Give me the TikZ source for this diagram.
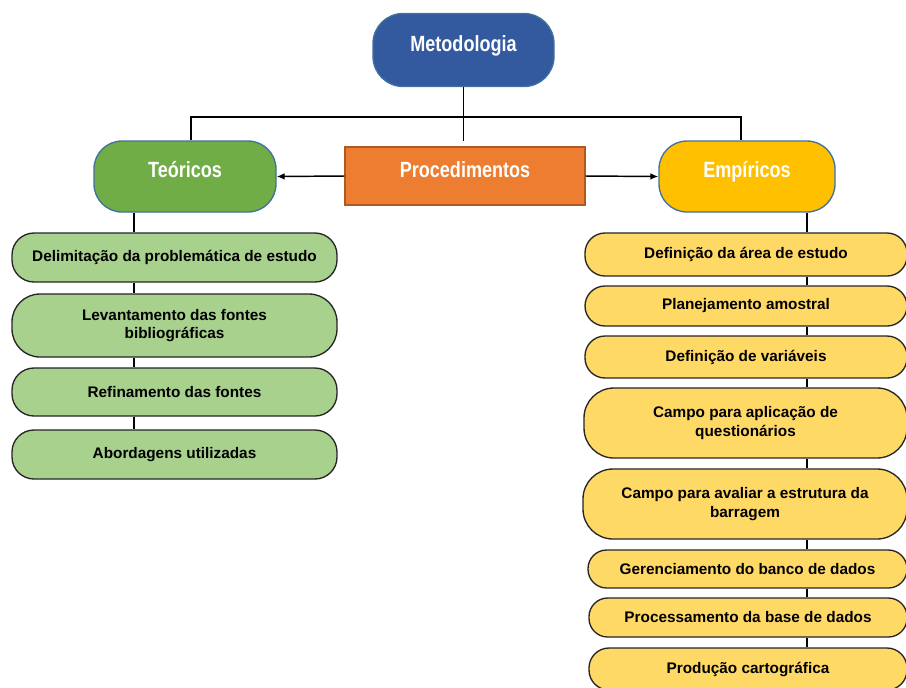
\documentclass[tikz,border=0pt]{standalone}
\usepackage{fontspec}
\setmainfont{Liberation Sans}
\newfontfamily\narrowfont[FakeStretch=0.82]{Liberation Sans}
\usetikzlibrary{arrows.meta}
\definecolor{metfill}{HTML}{335A9F}
\definecolor{teofill}{HTML}{70AD47}
\definecolor{procfill}{HTML}{ED7D31}
\definecolor{procline}{HTML}{AE5A21}
\definecolor{empfill}{HTML}{FFC000}
\definecolor{topline}{HTML}{41719C}
\definecolor{lfill}{HTML}{A9D18E}
\definecolor{rfill}{HTML}{FFD966}
\definecolor{boxline}{HTML}{262626}
\tikzset{
  topnode/.style={draw=topline, line width=1pt, inner sep=0pt, align=center, text=white,
    text height=12pt, text depth=9.8pt,
    font=\narrowfont\fontsize{16.5pt}{19pt}\selectfont\bfseries},
  subbox/.style={draw=boxline, line width=1pt, inner sep=0pt, align=center, text=black,
    font=\fontsize{11.5pt}{13.6pt}\selectfont\bfseries},
  lbox/.style={subbox, fill=lfill},
  rbox/.style={subbox, fill=rfill},
  conn/.style={draw=black, line width=1.1pt},
  sz/.style 2 args={minimum width=#1, minimum height=#2}
}
\begin{document}
\begin{tikzpicture}[x=0.75pt, y=-0.75pt]
\clip (0,0) rectangle (906,687);
\fill[white] (0,0) rectangle (906,687);
% top level
\node[topnode, fill=metfill, rounded corners=22.5pt, sz={135.75pt}{54.75pt}] (met) at (463.5,50) {Metodologia};
\node[topnode, fill=teofill, rounded corners=21pt, sz={136.5pt}{53.25pt}] (teo) at (185,176.5) {Teóricos};
\node[topnode, draw=procline, fill=procfill, sz={180pt}{43.5pt}] (proc) at (465,176) {Procedimentos};
\node[topnode, fill=empfill, rounded corners=21pt, sz={132pt}{53.25pt}] (emp) at (747,176.5) {Empíricos};
% connector coordinates
\coordinate (hy) at (0,117);
\coordinate (tx) at (191,0);
\coordinate (ex) at (741,0);
\coordinate (mend) at (463.5,141);
\coordinate (lx) at (134,0);
\coordinate (rx) at (807,0);
% left boxes
\node[lbox, rounded corners=16.5pt, sz={243.75pt}{36.75pt}] (l1) at (174.5,257.5) {Delimitação da problemática de estudo};
\node[lbox, rounded corners=21pt, sz={243.75pt}{47.25pt}] (l2) at (174.5,325.5) {Levantamento das fontes\\bibliográficas};
\node[lbox, rounded corners=16.5pt, sz={243.75pt}{36pt}] (l3) at (174.5,392) {Refinamento das fontes};
\node[lbox, rounded corners=16.5pt, sz={243.75pt}{36.75pt}] (l4) at (174.5,454.5) {Abordagens utilizadas};
% right boxes
\node[rbox, rounded corners=15pt, sz={241.5pt}{32.25pt}] (r1) at (746,254.5) {Definição da área de estudo};
\node[rbox, rounded corners=15pt, sz={241.5pt}{30pt}] (r2) at (746,306) {Planejamento amostral};
\node[rbox, rounded corners=15pt, sz={241.5pt}{31.5pt}] (r3) at (746,357) {Definição de variáveis};
\node[rbox, rounded corners=22.5pt, sz={242.25pt}{52.5pt}] (r4) at (745.5,423) {Campo para aplicação de\\questionários};
\node[rbox, rounded corners=22.5pt, sz={243pt}{52.5pt}] (r5) at (745,504) {Campo para avaliar a estrutura da\\barragem};
\node[rbox, rounded corners=14pt, sz={239.25pt}{28.5pt}] (r6) at (747.5,569) {Gerenciamento do banco de dados};
\node[rbox, rounded corners=14pt, sz={238.5pt}{29.25pt}] (r7) at (748,617.5) {Processamento da base de dados};
\node[rbox, rounded corners=15pt, sz={238.5pt}{31.5pt}] (r8) at (748,669) {Produção cartográfica};
% top connectors
\draw[conn] (met.south) -- (mend);
\draw[conn] (teo.north -| tx) -- (hy -| tx) -- (hy -| ex) -- (emp.north -| ex);
\draw[conn, -{Latex[length=6pt,width=5pt]}] (proc.west) -- (teo.east);
\draw[conn, -{Latex[length=6pt,width=5pt]}] (proc.east) -- (emp.west);
% left column
\draw[conn, line width=0.8pt] (teo.south -| lx) -- (l1.north -| lx);
\draw[conn, line width=0.8pt] (l1.south -| lx) -- (l2.north -| lx);
\draw[conn, line width=0.8pt] (l2.south -| lx) -- (l3.north -| lx);
\draw[conn, line width=0.8pt] (l3.south -| lx) -- (l4.north -| lx);
% right column
\draw[conn, line width=0.8pt] (emp.south -| rx) -- (r1.north -| rx);
\draw[conn, line width=0.8pt] (r1.south -| rx) -- (r2.north -| rx);
\draw[conn, line width=0.8pt] (r2.south -| rx) -- (r3.north -| rx);
\draw[conn, line width=0.8pt] (r3.south -| rx) -- (r4.north -| rx);
\draw[conn, line width=0.8pt] (r4.south -| rx) -- (r5.north -| rx);
\draw[conn, line width=0.8pt] (r5.south -| rx) -- (r6.north -| rx);
\draw[conn, line width=0.8pt] (r6.south -| rx) -- (r7.north -| rx);
\draw[conn, line width=0.8pt] (r7.south -| rx) -- (r8.north -| rx);
\end{tikzpicture}
\end{document}
